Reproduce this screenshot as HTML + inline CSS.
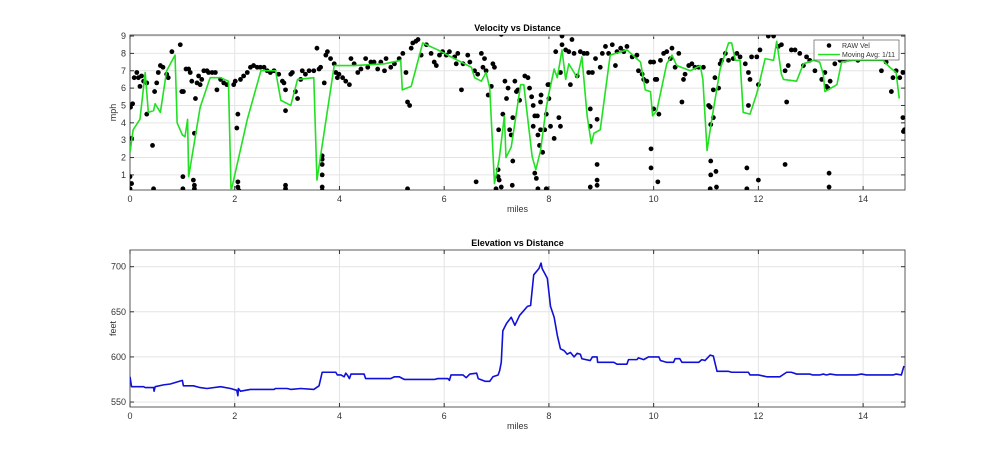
<!DOCTYPE html>
<html><head><meta charset="utf-8"><style>
body{margin:0;background:#fff;}
svg{display:block;font-family:"Liberation Sans",sans-serif;}
</style></head><body>
<svg id="fig" width="1000" height="457"></svg>
<script>
const velX=[0,0.06,0.19,0.29,0.35,0.45,0.48,0.58,0.7,0.86,0.9,1.0,1.05,1.1,1.12,1.34,1.53,1.73,1.88,1.93,2.24,2.5,2.78,2.88,3.07,3.2,3.51,3.57,3.9,4.28,4.86,5.17,5.2,5.37,5.59,5.88,6.13,6.52,6.58,6.71,6.8,6.87,6.96,7.05,7.15,7.18,7.28,7.46,7.52,7.68,7.75,7.84,7.94,8,8.1,8.16,8.25,8.32,8.38,8.48,8.54,8.63,8.73,8.81,8.86,8.98,9.17,9.49,9.75,9.84,9.94,9.98,10.06,10.25,10.35,10.44,10.7,10.89,10.94,11.02,11.11,11.27,11.43,11.49,11.56,11.65,11.71,11.84,11.97,12.13,12.29,12.35,12.44,12.48,12.73,12.86,13.05,13.17,13.24,13.27,13.5,13.59,13.81,14.38,14.51,14.63,14.69];
const velAvg=[2.3,3.6,4.2,6.9,4.6,4.7,5.1,4.6,7.0,7.9,4.0,3.3,3.2,4.2,0.9,4.9,6.6,6.6,6.4,0.05,4.2,7.0,7.0,5.3,5.0,6.5,6.6,0.7,7.3,7.3,7.4,7.6,5.9,6.1,8.6,8.2,7.8,7.2,6.6,6.4,6.9,6.0,0.5,1.9,4.4,2.0,2.6,6.2,6.2,2.05,1.3,2.4,4.7,5.7,7.1,6.6,8.2,6.5,7.4,6.9,6.6,7.8,4.4,2.8,3.4,3.6,7.9,8.2,7.5,5.9,5.8,4.4,4.7,7.4,7.9,7.3,7.0,7.3,6.5,2.4,4.2,7.1,8.6,8.6,7.6,7.6,4.6,4.5,5.7,7.7,7.6,8.7,6.8,6.5,6.4,7.4,7.6,7.5,6.8,5.8,6.2,7.5,7.6,7.6,7.2,6.9,5.4];
const rawX=[0,0,0.03,0.01,0.05,0.03,0.08,0.13,0.16,0.19,0.22,0.26,0.32,0.32,0.43,0.45,0.47,0.51,0.54,0.58,0.63,0.7,0.73,0.8,0.96,0.99,1.02,1.01,1.01,1.07,1.12,1.15,1.18,1.21,1.23,1.23,1.23,1.25,1.28,1.31,1.34,1.37,1.41,1.47,1.5,1.57,1.63,1.66,1.73,1.79,1.85,1.98,2.01,2.06,2.04,2.06,2.06,2.08,2.11,2.17,2.24,2.3,2.36,2.43,2.49,2.56,2.62,2.68,2.75,2.84,2.91,2.94,2.97,2.97,2.97,2.97,3.07,3.1,3.16,3.2,3.26,3.29,3.35,3.42,3.51,3.57,3.61,3.64,3.67,3.67,3.67,3.67,3.67,3.67,3.71,3.74,3.77,3.83,3.9,3.93,3.96,3.99,4.06,4.12,4.19,4.22,4.28,4.35,4.41,4.5,4.54,4.6,4.66,4.73,4.79,4.86,4.89,4.98,5.05,5.14,5.21,5.27,5.3,5.34,5.3,5.37,5.4,5.46,5.5,5.56,5.66,5.75,5.81,5.85,5.91,5.97,6.04,6.1,6.2,6.23,6.26,6.33,6.36,6.45,6.49,6.58,6.61,6.64,6.71,6.74,6.77,6.8,6.84,6.9,6.93,6.96,6.99,7.03,7.03,7.04,7.05,7.09,7.09,7.12,7.16,7.19,7.22,7.25,7.28,7.3,7.31,7.31,7.35,7.38,7.41,7.44,7.54,7.6,7.63,7.67,7.7,7.7,7.73,7.73,7.76,7.79,7.79,7.82,7.85,7.88,7.92,7.95,7.95,7.98,7.84,7.78,7.84,8,8,8.03,8.1,8.13,8.19,8.22,8.22,8.25,8.25,8.32,8.38,8.41,8.44,8.48,8.54,8.6,8.67,8.73,8.76,8.79,8.83,8.79,8.79,8.89,8.92,8.92,8.92,8.92,8.98,9.02,9.08,9.14,9.27,9.21,9.3,9.37,9.43,9.49,9.59,9.68,9.71,9.78,9.81,9.87,9.94,9.95,9.95,10,10.03,10,10.06,10.1,10.08,10.13,10.19,10.25,10.32,10.35,10.41,10.48,10.54,10.57,10.6,10.67,10.73,10.79,10.86,10.95,11.05,11.08,11.08,11.09,11.09,11.09,11.14,11.14,11.17,11.19,11.2,11.24,11.27,11.3,11.37,11.43,11.52,11.59,11.65,11.75,11.78,11.78,11.81,11.81,11.84,11.87,11.97,12,12,12.03,12.19,12.29,12.38,12.44,12.51,12.54,12.51,12.57,12.63,12.7,12.79,12.86,12.92,12.98,13.08,13.21,13.27,13.3,13.33,13.35,13.35,13.37,13.46,13.56,13.65,13.9,14.13,14.35,14.44,14.54,14.57,14.63,14.7,14.76,14.76,14.79,14.77];
const rawV=[0.9,0.2,0.5,4.9,5.1,3.1,6.6,6.9,6.6,6.1,6.7,6.4,6.3,4.5,2.7,0.2,5.8,6.3,6.9,7.3,7.2,6.8,6.6,8.1,8.5,5.8,5.8,0.9,0.2,7.1,7.1,6.9,6.4,0.7,0.4,0.2,3.4,5.4,6.3,6.7,6.2,6.5,7.0,7.0,6.9,6.9,6.9,5.9,6.5,6.3,6.2,6.2,6.4,4.5,3.7,0.6,0.3,0.1,6.5,6.7,6.9,7.2,7.3,7.2,7.2,7.2,7.0,6.9,7.0,6.8,6.4,6.3,5.9,4.7,0.4,0.2,6.8,6.9,5.8,5.4,6.5,7.0,6.8,7.0,7.0,8.3,7.1,7.2,2.1,1.9,1.6,1.0,0.3,0.1,6.3,7.9,8.1,7.7,7.4,6.9,6.6,6.8,6.6,6.4,6.2,7.7,7.4,6.9,7.1,7.7,7.2,7.5,7.5,7.1,7.5,7.0,7.7,7.2,7.4,7.7,8.0,6.9,5.2,5.0,0.2,8.3,8.6,8.7,8.8,7.9,8.5,8.0,7.5,7.3,7.9,8.1,7.9,8.1,7.8,7.4,8.0,5.9,7.4,7.9,7.5,7.0,0.6,6.8,8.0,7.2,7.7,7.0,5.6,6.1,7.4,7.2,0.2,1.3,0.9,3.6,0.7,9.1,0.3,4.5,6.4,5.4,6.0,3.6,3.3,0.4,1.8,4.3,6.4,5.8,5.9,5.3,6.7,6.6,6.0,5.5,5.0,3.8,4.4,1.1,0.8,3.3,0.2,2.7,5.6,2.3,3.6,4.5,0.2,6.2,5.2,4.4,3.6,6.2,5.4,3.8,3.1,8.1,4.3,3.8,6.9,9.0,8.5,8.2,8.1,6.2,8.8,8.0,6.7,8.1,8.0,8.0,6.9,4.8,6.9,3.8,0.3,7.7,4.2,1.6,0.7,0.4,7.2,8.0,8.4,8.0,7.3,8.5,8.1,8.3,8.1,8.4,7.8,7.9,7.0,6.8,6.5,6.4,7.5,2.5,1.4,7.5,6.5,4.8,6.5,4.5,0.6,7.6,8.0,8.1,7.7,8.3,7.2,8.0,5.2,6.5,6.8,7.3,7.4,7.2,7.2,7.2,5.0,4.9,0.2,3.9,1.0,1.8,5.9,4.3,6.6,1.2,0.3,6.0,7.4,7.6,8.0,7.6,7.7,8.0,7.8,7.4,1.4,0.2,5.0,6.9,6.5,7.8,7.8,6.2,0.7,8.2,9.0,9.0,8.4,8.5,7.0,5.2,1.6,7.3,8.2,8.2,8.0,7.3,7.8,7.6,7.0,6.5,6.9,6.1,6.0,1.1,0.3,6.4,7.4,7.6,7.6,7.6,8.0,7.0,7.5,5.8,6.6,7.0,6.6,6.9,4.3,3.6,3.5];
const eleX=[0,0.03,0.26,0.29,0.45,0.46,0.48,0.64,0.77,1.0,1.02,1.21,1.34,1.47,1.73,1.92,2.04,2.06,2.07,2.11,2.3,2.75,2.78,3.0,3.07,3.26,3.51,3.61,3.67,3.93,3.96,4.03,4.09,4.12,4.15,4.19,4.22,4.47,4.5,4.98,5.05,5.14,5.24,5.81,5.88,6.07,6.1,6.13,6.36,6.42,6.49,6.62,6.65,6.78,6.87,6.93,7.03,7.06,7.09,7.12,7.19,7.28,7.35,7.44,7.59,7.65,7.71,7.81,7.85,7.87,7.97,8.03,8.1,8.16,8.22,8.29,8.35,8.41,8.48,8.54,8.6,8.63,8.79,8.83,8.92,8.93,9.24,9.3,9.49,9.52,9.68,9.71,9.81,9.9,10.1,10.13,10.25,10.38,10.41,10.5,10.54,10.86,10.92,10.98,11.08,11.14,11.21,11.43,11.49,11.81,11.84,12.0,12.16,12.41,12.54,12.63,12.73,12.98,13.04,13.17,13.24,13.3,13.37,13.49,13.87,13.97,14.06,14.57,14.63,14.73,14.78];
const eleFt=[578,567,567,566,566,562,567,569,570,574,568,568,566,565,567,565,563,557,565,562,564,564,565,565,564,565,564,568,583,583,580,580,578,582,580,576,581,581,576,576,578,578,575,575,576,576,574,580,580,577,581,582,576,573,573,578,580,585,594,629,637,644,635,646,656,657,691,698,704,698,687,656,644,624,609,607,603,605,600,604,603,598,596,600,600,594,594,592,592,597,597,599,597,600,600,596,594,594,598,598,594,594,597,596,602,601,584,584,583,583,580,580,578,578,583,583,581,581,580,580,581,580,581,580,580,581,580,580,581,580,590];
const xTicks=[0,2,4,6,8,10,12,14];
const velTicks=[1,2,3,4,5,6,7,8,9];
const eleTicks=[550,600,650,700];

const NS="http://www.w3.org/2000/svg";
const svg=document.getElementById('fig');
function mk(tag,attrs,parent){const e=document.createElementNS(NS,tag);for(const k in attrs)e.setAttribute(k,attrs[k]);(parent||svg).appendChild(e);return e;}
const L=130,R=905,XMAX=14.8;
const sx=v=>L+(v/XMAX)*(R-L);
function axes(top,bot,ymin,ymax,yt,title,ylab,key){
  const sy=v=>bot-(v-ymin)/(ymax-ymin)*(bot-top);
  const g=mk('g',{});
  
  
  mk('rect',{x:L,y:top,width:R-L,height:bot-top,fill:'#fff'},g);
  xTicks.forEach(t=>{const x=sx(t);
    const l=mk('line',{x1:x,x2:x,y1:top,y2:bot,stroke:'#e4e4e4','stroke-width':1},g);
    
    mk('line',{x1:x,x2:x,y1:bot,y2:bot-4,stroke:'#333'},g);mk('line',{x1:x,x2:x,y1:top,y2:top+4,stroke:'#333'},g);
    const tx=mk('text',{x:x,y:bot+12,'font-size':9,'text-anchor':'middle',fill:'#333'},g);tx.textContent=t;
    });
  yt.forEach(t=>{const y=sy(t);
    const l=mk('line',{x1:L,x2:R,y1:y,y2:y,stroke:'#e4e4e4','stroke-width':1},g);
    
    mk('line',{x1:L,x2:L+4,y1:y,y2:y,stroke:'#333'},g);mk('line',{x1:R,x2:R-4,y1:y,y2:y,stroke:'#333'},g);
    const tx=mk('text',{x:L-4,y:y+3,'font-size':9,'text-anchor':'end',fill:'#333'},g);tx.textContent=t;
    });
  mk('rect',{x:L,y:top,width:R-L,height:bot-top,fill:'none',stroke:'#333','stroke-width':0.8},g);
  const ti=mk('text',{x:(L+R)/2,y:top-4,'font-size':9,'font-weight':'bold','text-anchor':'middle',fill:'#000'},g);ti.textContent=title;
  
  const xl=mk('text',{x:(L+R)/2,y:bot+22,'font-size':9,'text-anchor':'middle',fill:'#333'},g);xl.textContent='miles';
  
  const yl=mk('text',{x:0,y:0,'font-size':9,'text-anchor':'middle',fill:'#333',transform:`translate(${L-14},${(top+bot)/2}) rotate(-90)`},g);yl.textContent=ylab;
  
  const cp=mk('clipPath',{id:'cp'+key},svg);mk('rect',{x:L,y:top,width:R-L,height:bot-top},cp);
  return sy;
}
// velocity
const syV=axes(35,190,0.13,9.06,velTicks,'Velocity vs Distance','mph','velocity');
const gd=mk('g',{'clip-path':'url(#cpvelocity)'});


rawX.forEach((x,i)=>{const c=mk('circle',{cx:sx(x),cy:syV(rawV[i]),r:2.4,fill:'#000'},gd);
  
  });
const pv=mk('polyline',{points:velX.map((x,i)=>sx(x)+','+syV(velAvg[i])).join(' '),fill:'none',stroke:'#22e022','stroke-width':1.6,'stroke-linejoin':'round','clip-path':'url(#cpvelocity)'});


// legend
const lg=mk('g',{});


mk('rect',{x:814,y:40,width:85,height:20,fill:'#fff',stroke:'#444','stroke-width':0.6},lg);
mk('circle',{cx:829,cy:45.5,r:2.3,fill:'#000'},lg);
const t1=mk('text',{x:842,y:48,'font-size':7,fill:'#333'},lg);t1.textContent='RAW Vel';

mk('line',{x1:818,x2:840,y1:54.5,y2:54.5,stroke:'#22e022','stroke-width':1.6},lg);
const t2=mk('text',{x:842,y:57,'font-size':7,fill:'#333'},lg);t2.textContent='Moving Avg: 1/11';

// elevation
const syE=axes(250,407,544.5,718.5,eleTicks,'Elevation vs Distance','feet','elevation');
const pe=mk('polyline',{points:eleX.map((x,i)=>sx(x)+','+syE(eleFt[i])).join(' '),fill:'none',stroke:'#1010d8','stroke-width':1.6,'stroke-linejoin':'round','clip-path':'url(#cpelevation)'});


</script>
</body></html>
